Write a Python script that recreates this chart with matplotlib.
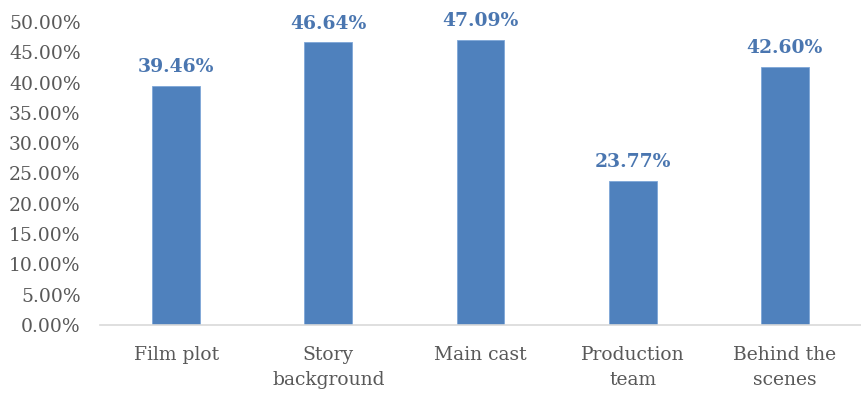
import matplotlib
matplotlib.use("Agg")
import matplotlib.pyplot as plt
from matplotlib.ticker import FuncFormatter, MultipleLocator

categories = ["Film plot", "Story\nbackground", "Main cast", "Production\nteam", "Behind the\nscenes"]
values = [39.46, 46.64, 47.09, 23.77, 42.60]

fig = plt.figure(figsize=(8.61, 3.96), dpi=100)
ax = fig.add_axes([100 / 861, 1 - 325 / 396, 761 / 861, (325 - 22) / 396])

x = range(len(categories))
ax.bar(x, values, width=0.315, color="#4F81BD", edgecolor="#7EA6D8", linewidth=0.6, zorder=2)

for xi, v in zip(x, values):
    ax.annotate(f"{v:.2f}%", xy=(xi, v), xytext=(0, 7), textcoords="offset points",
                ha="center", va="bottom", fontsize=13.5, fontweight="bold",
                color="#4A76B0", family="DejaVu Serif")

ax.set_xlim(-0.5, len(categories) - 0.5)
ax.set_ylim(0, 50)
ax.yaxis.set_major_locator(MultipleLocator(5))
ax.yaxis.set_major_formatter(FuncFormatter(lambda y, _: f"{y:.2f}%"))

ax.set_xticks(list(x))
ax.set_xticklabels(categories, linespacing=1.5)

for lbl in ax.get_yticklabels() + ax.get_xticklabels():
    lbl.set_family("DejaVu Serif")
    lbl.set_fontsize(13.5)
    lbl.set_color("#595959")

ax.tick_params(axis="both", length=0)
ax.tick_params(axis="y", pad=14)
ax.tick_params(axis="x", pad=15)

for side in ["top", "right", "left"]:
    ax.spines[side].set_visible(False)
ax.spines["bottom"].set_color("#D9D9D9")
ax.spines["bottom"].set_linewidth(1.2)

fig.savefig("out.png", dpi=100)
